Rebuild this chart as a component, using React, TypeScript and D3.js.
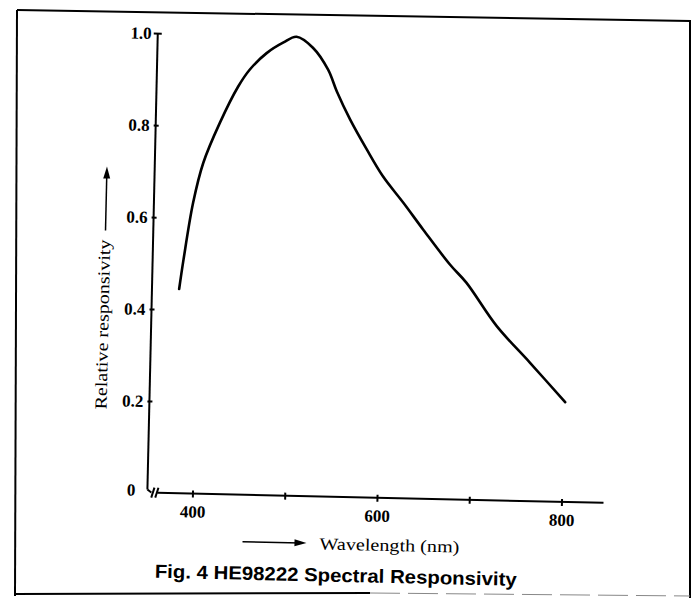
import React from 'react';
import * as d3 from 'd3';

// Data (wavelength in nm, relative responsivity)
const wavelengths = [380, 384, 393, 403, 420, 439, 451, 469, 487, 501, 519, 536, 546, 561, 580, 598, 621, 643, 673, 691, 725, 762, 801];
const responsivity = [0.446, 0.51, 0.634, 0.721, 0.809, 0.889, 0.926, 0.963, 0.987, 1.0, 0.977, 0.93, 0.883, 0.823, 0.758, 0.701, 0.644, 0.587, 0.512, 0.474, 0.381, 0.303, 0.219];

const xTicks = [400, 500, 600, 700, 800];
const xTickLabels = [400, 600, 800];
const yTicks = [0.2, 0.4, 0.6, 0.8, 1.0];
const yTickLabels = ['0.2', '0.4', '0.6', '0.8', '1.0'];

const titleText = 'Fig. 4  HE98222 Spectral Responsivity';
const xTitle = 'Wavelength (nm)';
const yTitle = 'Relative responsivity';

const W = 696;
const H = 598;

export default function App() {
  const x = d3.scaleLinear().domain([400, 800]).range([197.4, 566.5]);
  const y = d3.scaleLinear().domain([0, 1]).range([498, 38]);
  const axisX = x(350) + 0.5; // y-axis position (break at left)
  const axisY = y(0) - 1;

  const pts: [number, number][] = wavelengths.map((w, i) => [w, responsivity[i]]);
  const line = d3
    .line<[number, number]>()
    .x((d) => x(d[0]))
    .y((d) => y(d[1]))
    .curve(d3.curveCatmullRom.alpha(0.5));

  const serif = '"Liberation Serif", "DejaVu Serif", serif';
  const sans = '"Liberation Sans", Arial, sans-serif';

  const border = [
    [18, 10],
    [690, 20],
    [690, 598],
    [689, 598],
  ];

  return (
    <svg
      width={W}
      height={H}
      viewBox={`0 0 ${W} ${H}`}
      style={{ position: 'absolute', left: 0, top: 0, display: 'block', background: '#fff' }}
    >
      <rect x={0} y={0} width={W} height={H} fill="#fff" />
      {/* page frame */}
      <path d="M17,10 L690,21 L690,598" fill="none" stroke="#000" strokeWidth={2} />
      <path d="M17,10 L15,596" fill="none" stroke="#000" strokeWidth={2} />
      <path d="M15,594 L370,593" fill="none" stroke="#000" strokeWidth={2} />
      <path d="M370,593 L690,596" fill="none" stroke="#888" strokeWidth={1} strokeDasharray="30 8" />

      <g transform="rotate(1.3, 348, 300)">
        {/* y axis */}
        <line x1={axisX} y1={y(1)} x2={axisX} y2={axisY - 3} stroke="#000" strokeWidth={2} />
        {/* cap at 1.0 */}
        <line x1={axisX - 4} y1={y(1)} x2={axisX + 4} y2={y(1)} stroke="#000" strokeWidth={2} />
        {yTicks.slice(0, 4).map((t) => (
          <line key={t} x1={axisX - 2} y1={y(t)} x2={axisX + 3} y2={y(t)} stroke="#000" strokeWidth={2} />
        ))}
        {yTicks.map((t, i) => (
          <text
            key={'yl' + t}
            x={axisX - 6}
            y={y(t)}
            textAnchor="end"
            dominantBaseline="central"
            fontFamily={serif}
            fontWeight="bold"
            fontSize={17}
          >
            {yTickLabels[i]}
          </text>
        ))}
        <text
          x={axisX - 12}
          y={axisY - 2}
          textAnchor="end"
          dominantBaseline="central"
          fontFamily={serif}
          fontWeight="bold"
          fontSize={17}
        >
          0
        </text>

        {/* axis break */}
        <path
          d={`M${axisX},${axisY - 3} L${axisX + 4},${axisY}`}
          fill="none"
          stroke="#000"
          strokeWidth={2}
        />
        <line x1={axisX + 4} y1={axisY + 5} x2={axisX + 7} y2={axisY - 5} stroke="#000" strokeWidth={2} />
        <line x1={axisX + 8} y1={axisY + 5} x2={axisX + 11} y2={axisY - 5} stroke="#000" strokeWidth={2} />

        {/* x axis */}
        <line x1={axisX + 10} y1={axisY} x2={x(845)} y2={axisY} stroke="#000" strokeWidth={2} />
        {xTicks.map((t) => (
          <line key={t} x1={x(t)} y1={axisY - 3} x2={x(t)} y2={axisY + 4} stroke="#000" strokeWidth={2} />
        ))}
        {xTickLabels.map((t) => (
          <text
            key={'xl' + t}
            x={x(t)}
            y={axisY + 24}
            textAnchor="middle"
            fontFamily={serif}
            fontWeight="bold"
            fontSize={17}
          >
            {t}
          </text>
        ))}

        {/* curve */}
        <path d={line(pts) || ''} fill="none" stroke="#000" strokeWidth={2.6} strokeLinecap="round" strokeLinejoin="round" />

        {/* x title with arrow */}
        <line x1={248} y1={544} x2={306} y2={544} stroke="#000" strokeWidth={1.5} />
        <path d="M312,544 L300,540.5 L300,547.5 Z" fill="#000" />
        <text x={325} y={550} fontFamily={serif} fontSize={17} textLength={140} lengthAdjust="spacingAndGlyphs">
          {xTitle}
        </text>

        {/* y title with arrow */}
        <text
          transform={`translate(${109}, ${330}) rotate(-90)`}
          textAnchor="middle"
          fontFamily={serif}
          fontSize={17}
          textLength={170}
          lengthAdjust="spacingAndGlyphs"
        >
          {yTitle}
        </text>
        <line x1={104} y1={236} x2={104} y2={180} stroke="#000" strokeWidth={1.5} />
        <path d="M104,172 L100.5,184 L107.5,184 Z" fill="#000" />

        {/* figure caption */}
        <text
          x={161}
          y={582}
          fontFamily={sans}
          fontWeight="bold"
          fontSize={19}
          textLength={362}
          lengthAdjust="spacingAndGlyphs"
        >
          {titleText}
        </text>
      </g>
    </svg>
  );
}
